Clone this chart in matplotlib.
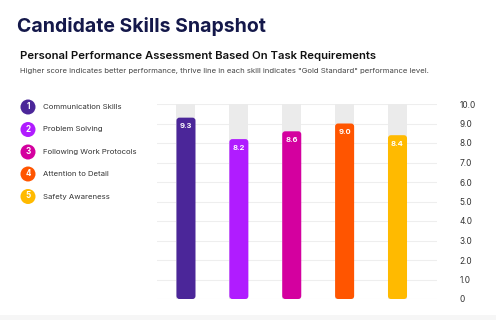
from matplotlib import pyplot as plt
from matplotlib.patches import FancyBboxPatch, Ellipse
import numpy as np

skills = ["Communication Skills", "Problem Solving", "Following Work Protocols",
          "Attention to Detail", "Safety Awareness"]
scores = [9.3, 8.2, 8.6, 9.0, 8.4]
thrive = [10, 10, 10, 10, 10]
colors = ["#4B2699", "#B01CFF", "#D4009F", "#FF5500", "#FFBA00"]
yticks = [0, 1, 2, 3, 4, 5, 6, 7, 8, 9, 10]
ytick_labels = ["0", "1.0", "2.0", "3.0", "4.0", "5.0", "6.0", "7.0", "8.0", "9.0", "10.0"]

W, H = 496, 320
plt.rcParams['font.family'] = ['Inter', 'DejaVu Sans']

fig = plt.figure(figsize=(W / 100, H / 100), dpi=100)
fig.patch.set_facecolor("white")

# faint strip at the bottom
fig.patches.append(plt.Rectangle((0, 0), 1, 5 / H, transform=fig.transFigure,
                                 facecolor="#f6f6f6", edgecolor="none"))

fig.text(17 / W, 1 - 27 / H, "Candidate Skills Snapshot", fontsize=14,
         fontweight="bold", color="#14184a", va="center", ha="left")
fig.text(20 / W, 1 - 56 / H, "Personal Performance Assessment Based On Task Requirements",
         fontsize=8.15, fontweight="semibold", color="#111111", va="center", ha="left")
fig.text(20 / W, 1 - 71 / H,
         'Higher score indicates better performance, thrive line in each skill indicates "Gold Standard" performance level.',
         fontsize=5.55, color="#444444", va="center", ha="left")

# main axes
x0, x1 = 157, 437
y_top, y_bot = 104, 299
ax = fig.add_axes([x0 / W, 1 - y_bot / H, (x1 - x0) / W, (y_bot - y_top) / H])
ax.set_xlim(-0.548, 4.747)
ax.set_ylim(0, 10)
for s in ax.spines.values():
    s.set_visible(False)
ax.set_xticks([])
ax.yaxis.tick_right()
ax.set_yticks(yticks)
ax.set_yticklabels(ytick_labels)
ax.tick_params(axis="y", length=0, pad=16, labelsize=6, labelcolor="#333333")
for lab in ax.get_yticklabels():
    lab.set_horizontalalignment("left")
ax.grid(axis="y", color="#eeeeee", linewidth=0.8)
ax.set_axisbelow(True)

bw = 0.36
xunit = 1 / 52.9
yunit = 10 / 195.0
aspect = yunit / xunit
xs = np.arange(len(scores))
ax.bar(xs, thrive, width=bw, color="#ebebeb", zorder=2)
for x, v, c in zip(xs, scores, colors):
    p = FancyBboxPatch((x - bw / 2, 0), bw, v,
                       boxstyle="round,pad=0,rounding_size=%f" % (3 * xunit),
                       mutation_aspect=aspect, facecolor=c, edgecolor="none", zorder=3)
    ax.add_patch(p)
    ax.text(x, v - 0.45, "%.1f" % v, color="white", fontsize=5.5,
            fontweight="bold", ha="center", va="center", zorder=4)

# legend on the left
leg_y = [107, 129.5, 152, 174, 196.5]
for i, (name, c, yy) in enumerate(zip(skills, colors, leg_y)):
    fig.patches.append(Ellipse((28 / W, 1 - yy / H), 15 / W, 15 / H,
                               transform=fig.transFigure, facecolor=c, edgecolor="none"))
    fig.text(28 / W, 1 - yy / H + 0.5 / H, str(i + 1), color="white",
             fontsize=5.8, fontweight="bold", ha="center", va="center")
    fig.text(43 / W, 1 - yy / H, name, fontsize=5.6, color="#333333", va="center", ha="left")

fig.savefig("out.png", dpi=100)
